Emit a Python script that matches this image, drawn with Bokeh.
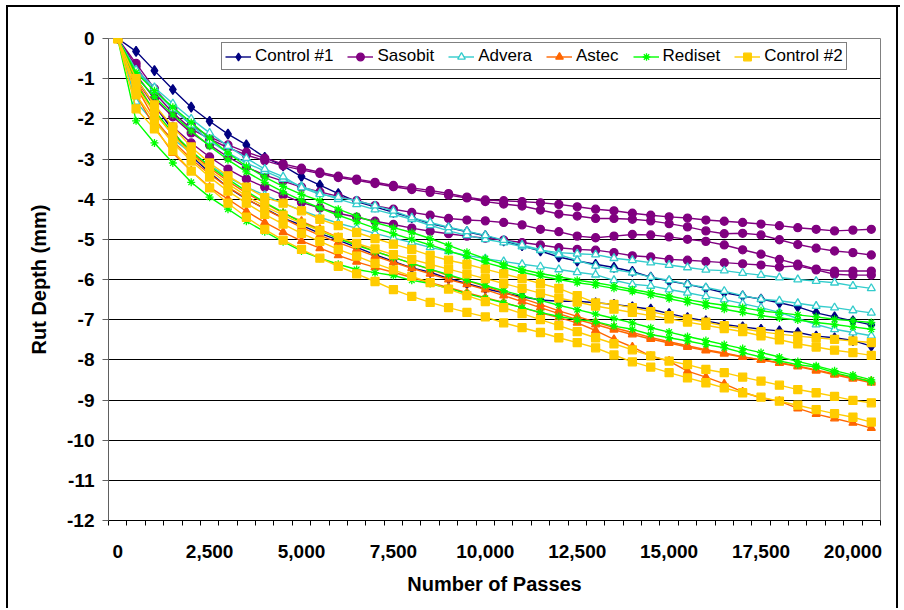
from bokeh.plotting import figure
from bokeh.models import (Range1d, FixedTicker, NumeralTickFormatter, Legend,
                          LegendItem)
from bokeh.embed import file_html
from bokeh.resources import INLINE

# ---------------- data ----------------
passes = [0, 500, 1000, 1500, 2000, 2500, 3000, 3500, 4000, 4500,
          5000, 5500, 6000, 6500, 7000, 7500, 8000, 8500, 9000, 9500,
          10000, 10500, 11000, 11500, 12000, 12500, 13000, 13500, 14000, 14500,
          15000, 15500, 16000, 16500, 17000, 17500, 18000, 18500, 19000, 19500,
          20000, 20500]

control1_a = [0, -0.32, -0.80, -1.27, -1.71, -2.06, -2.38, -2.65, -2.96, -3.17,
              -3.44, -3.65, -3.86, -4.06, -4.19, -4.33, -4.46, -4.61, -4.71, -4.81,
              -4.91, -5.04, -5.16, -5.29, -5.44, -5.54, -5.62, -5.70, -5.80, -5.94,
              -6.04, -6.12, -6.22, -6.33, -6.41, -6.49, -6.58, -6.68, -6.83, -6.93,
              -7.03, -7.13]
control1_b = [0, -1.00, -1.65, -2.30, -2.92, -3.34, -3.71, -4.00, -4.23, -4.47,
              -4.65, -4.85, -5.02, -5.20, -5.38, -5.55, -5.71, -5.82, -5.98, -6.10,
              -6.23, -6.33, -6.43, -6.51, -6.54, -6.54, -6.58, -6.62, -6.68, -6.74,
              -6.85, -6.95, -7.03, -7.12, -7.18, -7.24, -7.28, -7.32, -7.41, -7.45,
              -7.52, -7.66]

sasobit_a = [0, -0.62, -1.25, -1.75, -2.15, -2.45, -2.65, -2.83, -2.98, -3.12,
             -3.23, -3.33, -3.43, -3.50, -3.58, -3.66, -3.72, -3.78, -3.86, -3.95,
             -4.02, -4.04, -4.06, -4.09, -4.13, -4.19, -4.25, -4.29, -4.35, -4.40,
             -4.44, -4.47, -4.52, -4.55, -4.58, -4.62, -4.66, -4.71, -4.75, -4.79,
             -4.77, -4.75]
sasobit_b = [0, -0.70, -1.35, -1.85, -2.25, -2.50, -2.72, -2.90, -3.04, -3.17,
             -3.27, -3.36, -3.46, -3.53, -3.61, -3.69, -3.76, -3.83, -3.90, -3.97,
             -4.06, -4.12, -4.17, -4.27, -4.37, -4.42, -4.48, -4.48, -4.50, -4.54,
             -4.61, -4.69, -4.79, -4.86, -4.85, -4.89, -5.01, -5.13, -5.22, -5.29,
             -5.33, -5.39]
sasobit_c = [0, -0.90, -1.50, -1.95, -2.35, -2.65, -2.95, -3.20, -3.40, -3.55,
             -3.70, -3.82, -3.93, -4.04, -4.16, -4.25, -4.33, -4.40, -4.48, -4.52,
             -4.54, -4.58, -4.64, -4.75, -4.81, -4.92, -4.96, -4.92, -4.88, -4.89,
             -4.94, -5.00, -5.05, -5.14, -5.26, -5.37, -5.50, -5.62, -5.74, -5.79,
             -5.79, -5.79]
sasobit_d = [0, -1.00, -1.70, -2.20, -2.60, -2.95, -3.25, -3.50, -3.70, -3.90,
             -4.08, -4.22, -4.35, -4.45, -4.55, -4.63, -4.72, -4.80, -4.86, -4.92,
             -4.97, -5.02, -5.08, -5.14, -5.21, -5.25, -5.27, -5.33, -5.41, -5.44,
             -5.50, -5.52, -5.55, -5.58, -5.61, -5.64, -5.69, -5.66, -5.76, -5.87,
             -5.89, -5.89]

advera_a = [0, -0.80, -1.30, -1.75, -2.15, -2.55, -2.85, -3.10, -3.30, -3.50,
            -3.68, -3.85, -4.00, -4.13, -4.26, -4.38, -4.50, -4.65, -4.79, -4.90,
            -5.00, -5.08, -5.18, -5.27, -5.33, -5.36, -5.38, -5.47, -5.52, -5.58,
            -5.64, -5.70, -5.76, -5.78, -5.84, -5.89, -5.95, -6.00, -6.04, -6.08,
            -6.16, -6.22]
advera_b = [0, -0.78, -1.22, -1.62, -2.00, -2.35, -2.68, -2.98, -3.25, -3.44,
            -3.71, -3.88, -3.95, -4.04, -4.16, -4.29, -4.46, -4.58, -4.70, -4.80,
            -4.90, -5.02, -5.14, -5.26, -5.38, -5.52, -5.66, -5.75, -5.83, -5.94,
            -6.02, -6.12, -6.20, -6.29, -6.40, -6.49, -6.53, -6.59, -6.66, -6.70,
            -6.77, -6.83]
advera_c = [0, -1.58, -2.10, -2.50, -2.85, -3.15, -3.45, -3.70, -3.90, -4.10,
            -4.28, -4.45, -4.60, -4.72, -4.85, -4.97, -5.08, -5.20, -5.30, -5.40,
            -5.48, -5.55, -5.62, -5.68, -5.75, -5.82, -5.88, -6.02, -6.12, -6.16,
            -6.25, -6.33, -6.42, -6.50, -6.60, -6.70, -6.82, -6.97, -7.12, -7.24,
            -7.32, -7.40]

astec_a = [0, -1.20, -2.00, -2.55, -3.00, -3.38, -3.70, -3.98, -4.25, -4.48,
           -4.70, -4.90, -5.08, -5.25, -5.42, -5.57, -5.72, -5.86, -6.00, -6.12,
           -6.25, -6.40, -6.55, -6.70, -6.85, -7.00, -7.12, -7.25, -7.37, -7.48,
           -7.58, -7.68, -7.77, -7.85, -7.93, -8.00, -8.07, -8.15, -8.25, -8.35,
           -8.44, -8.53]
astec_b = [0, -1.40, -2.20, -2.85, -3.30, -3.70, -4.00, -4.30, -4.58, -4.82,
           -5.04, -5.22, -5.40, -5.56, -5.70, -5.82, -5.95, -6.08, -6.20, -6.33,
           -6.45, -6.57, -6.70, -6.83, -6.95, -7.08, -7.27, -7.49, -7.68, -7.91,
           -8.03, -8.28, -8.43, -8.60, -8.80, -8.95, -9.03, -9.21, -9.35, -9.46,
           -9.57, -9.70]
astec_c = [0, -1.05, -1.85, -2.40, -2.85, -3.22, -3.55, -3.85, -4.10, -4.35,
           -4.55, -4.75, -4.95, -5.12, -5.30, -5.45, -5.60, -5.75, -5.90, -6.03,
           -6.17, -6.32, -6.47, -6.62, -6.78, -6.92, -7.06, -7.20, -7.32, -7.44,
           -7.55, -7.65, -7.75, -7.83, -7.92, -8.00, -8.08, -8.17, -8.27, -8.37,
           -8.47, -8.57]

rediset_a = [0, -0.85, -1.30, -1.71, -2.09, -2.48, -2.85, -3.18, -3.45, -3.68,
             -3.88, -4.04, -4.25, -4.42, -4.58, -4.71, -4.83, -4.98, -5.15, -5.32,
             -5.48, -5.62, -5.75, -5.85, -5.93, -6.02, -6.08, -6.16, -6.25, -6.33,
             -6.41, -6.50, -6.58, -6.64, -6.70, -6.78, -6.83, -6.88, -6.93, -6.99,
             -7.03, -7.07]
rediset_b = [0, -0.95, -1.45, -1.90, -2.30, -2.68, -3.02, -3.32, -3.58, -3.82,
             -4.03, -4.22, -4.40, -4.56, -4.72, -4.86, -5.00, -5.14, -5.29, -5.43,
             -5.58, -5.70, -5.82, -5.92, -6.00, -6.08, -6.14, -6.22, -6.30, -6.39,
             -6.48, -6.57, -6.66, -6.74, -6.82, -6.90, -6.96, -7.01, -7.07, -7.12,
             -7.18, -7.24]
rediset_c = [0, -2.05, -2.60, -3.10, -3.58, -3.95, -4.25, -4.55, -4.81, -5.06,
             -5.29, -5.47, -5.62, -5.75, -5.83, -5.90, -6.02, -6.10, -6.22, -6.35,
             -6.47, -6.58, -6.70, -6.82, -6.92, -7.00, -7.05, -7.16, -7.24, -7.37,
             -7.45, -7.53, -7.62, -7.70, -7.82, -7.93, -8.03, -8.12, -8.18, -8.32,
             -8.43, -8.55]
rediset_d = [0, -1.15, -1.80, -2.35, -2.80, -3.18, -3.50, -3.80, -4.08, -4.33,
             -4.58, -4.78, -4.98, -5.15, -5.30, -5.45, -5.60, -5.74, -5.88, -6.02,
             -6.15, -6.28, -6.40, -6.52, -6.64, -6.75, -6.86, -6.97, -7.08, -7.20,
             -7.31, -7.42, -7.52, -7.62, -7.72, -7.82, -7.93, -8.04, -8.15, -8.27,
             -8.38, -8.50]

control2_a = [0, -1.00, -1.65, -2.20, -2.70, -3.10, -3.42, -3.70, -3.96, -4.10,
              -4.29, -4.50, -4.66, -4.83, -4.98, -5.12, -5.25, -5.40, -5.52, -5.62,
              -5.74, -5.86, -5.98, -6.10, -6.22, -6.40, -6.58, -6.62, -6.70, -6.80,
              -6.90, -6.98, -7.06, -7.15, -7.22, -7.30, -7.36, -7.41, -7.45, -7.49,
              -7.53, -7.57]
control2_b = [0, -1.20, -1.85, -2.40, -2.88, -3.28, -3.62, -3.92, -4.18, -4.40,
              -4.60, -4.78, -4.95, -5.10, -5.24, -5.38, -5.50, -5.62, -5.74, -5.86,
              -5.98, -6.10, -6.22, -6.34, -6.46, -6.56, -6.66, -6.74, -6.82, -6.90,
              -6.98, -7.06, -7.14, -7.22, -7.30, -7.40, -7.50, -7.60, -7.68, -7.76,
              -7.82, -7.89]
control2_c = [0, -1.40, -2.05, -2.60, -3.05, -3.45, -3.80, -4.10, -4.38, -4.62,
              -4.85, -5.05, -5.25, -5.42, -5.60, -5.76, -5.92, -6.08, -6.24, -6.40,
              -6.55, -6.70, -6.85, -7.00, -7.15, -7.30, -7.45, -7.60, -7.75, -7.90,
              -8.03, -8.12, -8.24, -8.32, -8.43, -8.53, -8.63, -8.74, -8.82, -8.91,
              -9.01, -9.07]
control2_d = [0, -1.75, -2.25, -2.80, -3.30, -3.72, -4.10, -4.45, -4.75, -5.02,
              -5.25, -5.47, -5.67, -5.86, -6.05, -6.25, -6.42, -6.57, -6.70, -6.82,
              -6.93, -7.08, -7.20, -7.32, -7.45, -7.57, -7.70, -7.88, -8.05, -8.18,
              -8.32, -8.45, -8.57, -8.70, -8.82, -8.93, -9.03, -9.13, -9.24, -9.34,
              -9.43, -9.55]

x_tick_values = [0, 2500, 5000, 7500, 10000, 12500, 15000, 17500, 20000]
y_tick_values = [0, -1, -2, -3, -4, -5, -6, -7, -8, -9, -10, -11, -12]

materials = [
    ("Control #1", [control1_a, control1_b]),
    ("Sasobit", [sasobit_a, sasobit_b, sasobit_c, sasobit_d]),
    ("Advera", [advera_a, advera_b, advera_c]),
    ("Astec", [astec_a, astec_b, astec_c]),
    ("Rediset", [rediset_a, rediset_b, rediset_c, rediset_d]),
    ("Control #2", [control2_a, control2_b, control2_c, control2_d]),
]

# ---------------- styles ----------------
styles = {
    "Control #1": dict(color="#000080", marker="diamond", size=10, fill="#000080"),
    "Sasobit": dict(color="#800080", marker="circle", size=8, fill="#800080"),
    "Advera": dict(color="#33CCCC", marker="triangle", size=8, fill="white"),
    "Astec": dict(color="#FF6600", marker="triangle", size=8, fill="#FF6600"),
    "Rediset": dict(color="#00FF00", marker="asterisk", size=8, fill="#00FF00"),
    "Control #2": dict(color="#FFCC00", marker="square", size=8, fill="#FFCC00"),
}

FONT = "Liberation Sans"

p = figure(output_backend="svg", toolbar_location=None,
           frame_width=772, frame_height=482,
           min_border_left=108, min_border_right=20,
           min_border_top=38, min_border_bottom=88,
           x_range=Range1d(-250, 20750), y_range=Range1d(-12, 0),
           background_fill_color="white", border_fill_color=None)
p.outline_line_color = "#808080"
p.outline_line_width = 1
# outer chart border (left, top, right), drawn by the host element behind the transparent canvas
p.styles = {
    "box-shadow": "inset 6px 5px 0 0 #ffffff, inset 8px 7px 0 0 #000000, "
                  "inset -2px 0 0 0 #ffffff, inset -4px 0 0 0 #000000",
}

legend_items = []
for name, curves in materials:
    st = styles[name]
    first = None
    for vals in curves:
        xs = passes[:len(vals)]
        lr = p.line(xs, vals, line_color=st["color"], line_width=1.4)
        sr = p.scatter(xs, vals, marker=st["marker"], size=st["size"],
                       line_color=st["color"], fill_color=st["fill"],
                       line_width=1.3)
        if first is None:
            first = [lr, sr]
    legend_items.append(LegendItem(label=name, renderers=first))

# axes
minor_positions = [v - 250 for v in passes] + [passes[-1] + 250]
p.xaxis.ticker = FixedTicker(ticks=x_tick_values, minor_ticks=minor_positions)
p.xaxis.formatter = NumeralTickFormatter(format="0,0")
p.xaxis.major_tick_line_color = None
p.xaxis.minor_tick_line_color = "black"
p.xaxis.minor_tick_in = 0
p.xaxis.minor_tick_out = 5
p.xaxis.axis_line_color = "black"
p.xaxis.axis_label = "Number of Passes"
p.xaxis.major_label_standoff = 18
p.xaxis.axis_label_standoff = 12

p.yaxis.ticker = FixedTicker(ticks=y_tick_values, minor_ticks=[])
p.yaxis.formatter = NumeralTickFormatter(format="0")
p.yaxis.axis_line_color = "#606060"
p.yaxis.major_tick_line_color = "#606060"
p.yaxis.major_tick_in = 0
p.yaxis.major_tick_out = 6
p.yaxis.major_label_standoff = 8
p.yaxis.axis_label = "Rut Depth (mm)"
p.yaxis.axis_label_standoff = 14

for ax in (p.xaxis[0], p.yaxis[0]):
    ax.major_label_text_font = FONT
    ax.major_label_text_font_size = "19px"
    ax.major_label_text_font_style = "bold"
    ax.major_label_text_color = "black"
    ax.axis_label_text_font = FONT
    ax.axis_label_text_font_size = "20px"
    ax.axis_label_text_font_style = "bold"
    ax.axis_label_text_color = "black"

p.xgrid.grid_line_color = None
p.ygrid.ticker = FixedTicker(ticks=y_tick_values, minor_ticks=[])
p.ygrid.grid_line_color = "black"
p.ygrid.grid_line_width = 1

legend = Legend(items=legend_items, orientation="horizontal",
                location=(113, 450),
                label_text_font=FONT, label_text_font_size="17px",
                label_text_color="black",
                glyph_width=26, glyph_height=19, label_height=19,
                label_standoff=4, spacing=14, padding=3, margin=0,
                border_line_color="black", border_line_width=1,
                background_fill_color="white", background_fill_alpha=1)
p.add_layout(legend)

open("out.html", "w").write(file_html(p, INLINE))
